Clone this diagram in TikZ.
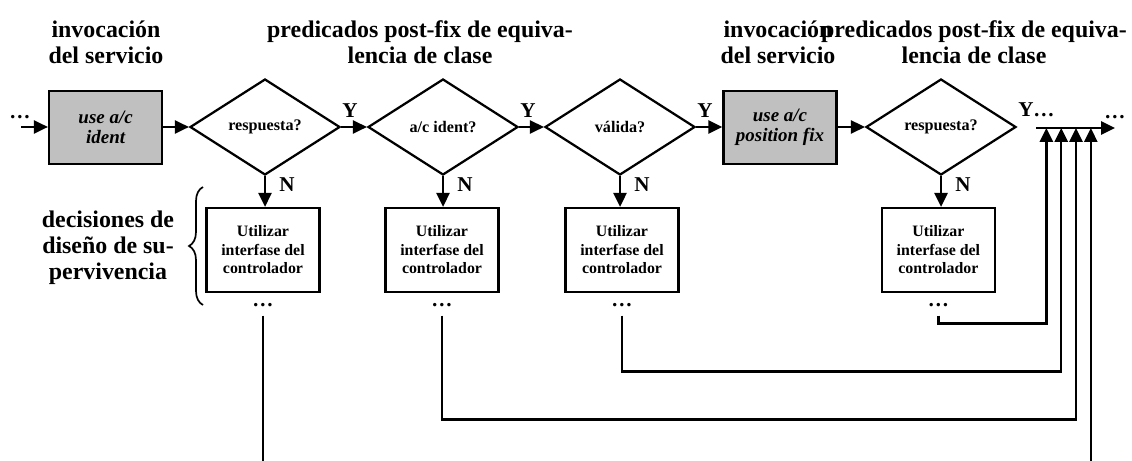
\documentclass[tikz,border=0pt]{standalone}
\usepackage{fontspec}
\setmainfont{Liberation Serif}
\usetikzlibrary{arrows.meta,positioning,shapes.geometric,decorations.pathreplacing}
\definecolor{actc}{RGB}{192,192,192}

\begin{document}
\begin{tikzpicture}[x=1cm,y=-1cm,line width=1.6pt,>={Triangle[length=3.5mm,width=3.3mm]},
  act/.style={draw,fill=actc,minimum width=2.83cm,minimum height=1.83cm,inner sep=0pt,align=center,
    font=\fontsize{13.5}{14.4}\selectfont\bfseries\itshape},
  ask/.style={draw,diamond,minimum width=3.75cm,minimum height=2.4cm,inner sep=0pt,
    font=\fontsize{11.5}{13}\selectfont\bfseries},
  ctl/.style={draw,minimum width=2.83cm,minimum height=2.1cm,inner sep=0pt,align=center,
    font=\fontsize{11.3}{13.2}\selectfont\bfseries},
  head/.style={align=center,font=\fontsize{17}{18.6}\selectfont\bfseries},
  yn/.style={inner sep=0pt,font=\fontsize{15}{17}\selectfont\bfseries}]
\useasboundingbox (0,0) rectangle (28.3,11.525);
% column headings
\node[head] (h1) at (2.65,1.05) {invocación\\del servicio};
\node[head] (h2) at (10.5,1.05) {predicados post-fix de equiva-\\lencia de clase};
\node[head] (h3) at (19.45,1.05) {invocación\\del servicio};
\node[head] (h4) at (24.35,1.05) {predicados post-fix de equiva-\\lencia de clase};
% main row: actions and checks
\node[yn,anchor=base] (din) at (0.5,2.975) {…};
\coordinate (src) at (0.525,3.175);
\node[act] (uid) at (2.64,3.19) {use a/c\\ident};
\node[ask] (q1) at (6.625,3.175) {respuesta?};
\node[ask] (q2) at (11.075,3.175) {a/c ident?};
\node[ask] (q3) at (15.5,3.175) {válida?};
\node[act] (upf) at (19.5,3.19) {use a/c\\position fix};
\node[ask] (q4) at (23.525,3.175) {respuesta?};
\draw[->] (src) -- (uid.west |- src);
\draw[->] (uid.east |- q1) -- (q1.west);
\draw[->] (q1.east) -- (q2.west);
\draw[->] (q2.east) -- (q3.west);
\draw[->] (q3.east) -- (upf.west |- q3);
\draw[->] (upf.east |- q4) -- (q4.west);
\node[yn,anchor=south west] (y1) at ([yshift=0.22cm]q1.east) {Y};
\node[yn,anchor=south west] (y2) at ([yshift=0.22cm]q2.east) {Y};
\node[yn,anchor=south west] (y3) at ([yshift=0.22cm]q3.east) {Y};
\node[yn,anchor=south west] (y4) at ([yshift=0.22cm]q4.east) {Y…};
% merge bus on the right
\coordinate (bus) at (25.9,3.2);
\node[yn,anchor=base] (dout) at (27.875,2.975) {…};
\draw[->] (bus) -- (bus -| dout);
% fallback boxes
\node[ctl] (ui1) at (6.575,6.25) {Utilizar\\interfase del\\controlador};
\node[ctl] (ui2) at (11.05,6.25) {Utilizar\\interfase del\\controlador};
\node[ctl] (ui3) at (15.55,6.25) {Utilizar\\interfase del\\controlador};
\node[ctl] (ui4) at (23.46,6.25) {Utilizar\\interfase del\\controlador};
\draw[->] (q1.south) -- (q1.south |- ui1.north);
\draw[->] (q2.south) -- (q2.south |- ui2.north);
\draw[->] (q3.south) -- (q3.south |- ui3.north);
\draw[->] (q4.south) -- (q4.south |- ui4.north);
\node[yn,anchor=north west] (n1) at ([xshift=0.33cm]q1.south) {N};
\node[yn,anchor=north west] (n2) at ([xshift=0.33cm]q2.south) {N};
\node[yn,anchor=north west] (n3) at ([xshift=0.33cm]q3.south) {N};
\node[yn,anchor=north west] (n4) at ([xshift=0.33cm]q4.south) {N};
\node[yn,below=0.22cm of ui1] (dt1) {…};
\node[yn,below=0.22cm of ui2] (dt2) {…};
\node[yn,below=0.22cm of ui3] (dt3) {…};
\node[yn,below=0.22cm of ui4] (dt4) {…};
% return paths into the bus
\coordinate (btm) at (0,11.6);
\coordinate (j1) at (26.16,3.2);
\coordinate (j2) at (26.53,3.2);
\coordinate (j3) at (26.9,3.2);
\coordinate (j4) at (27.27,3.2);
\draw[shorten <=0.2cm] (dt1.south) -- (dt1.south |- btm);
\draw[->,shorten <=0.2cm] (dt2.south) -- ++(0,2.8) -| (j3);
\draw[->,shorten <=0.2cm] (dt3.south) -- ++(0,1.6) -| (j2);
\draw[->,shorten <=0.2cm] (dt4.south) -- ++(0,0.4) -| (j1);
\draw[->] (j4 |- btm) -- (j4);
% design decisions brace
\coordinate (bt) at (5.075,4.675);
\coordinate (bb) at (5.075,7.625);
\draw[decorate,decoration={brace,amplitude=0.35cm},line width=1.2pt] (bb) -- (bt);
\node[head] (dsg) at (2.7,6.19) {decisiones de\\diseño de su-\\pervivencia};
\end{tikzpicture}
\end{document}
